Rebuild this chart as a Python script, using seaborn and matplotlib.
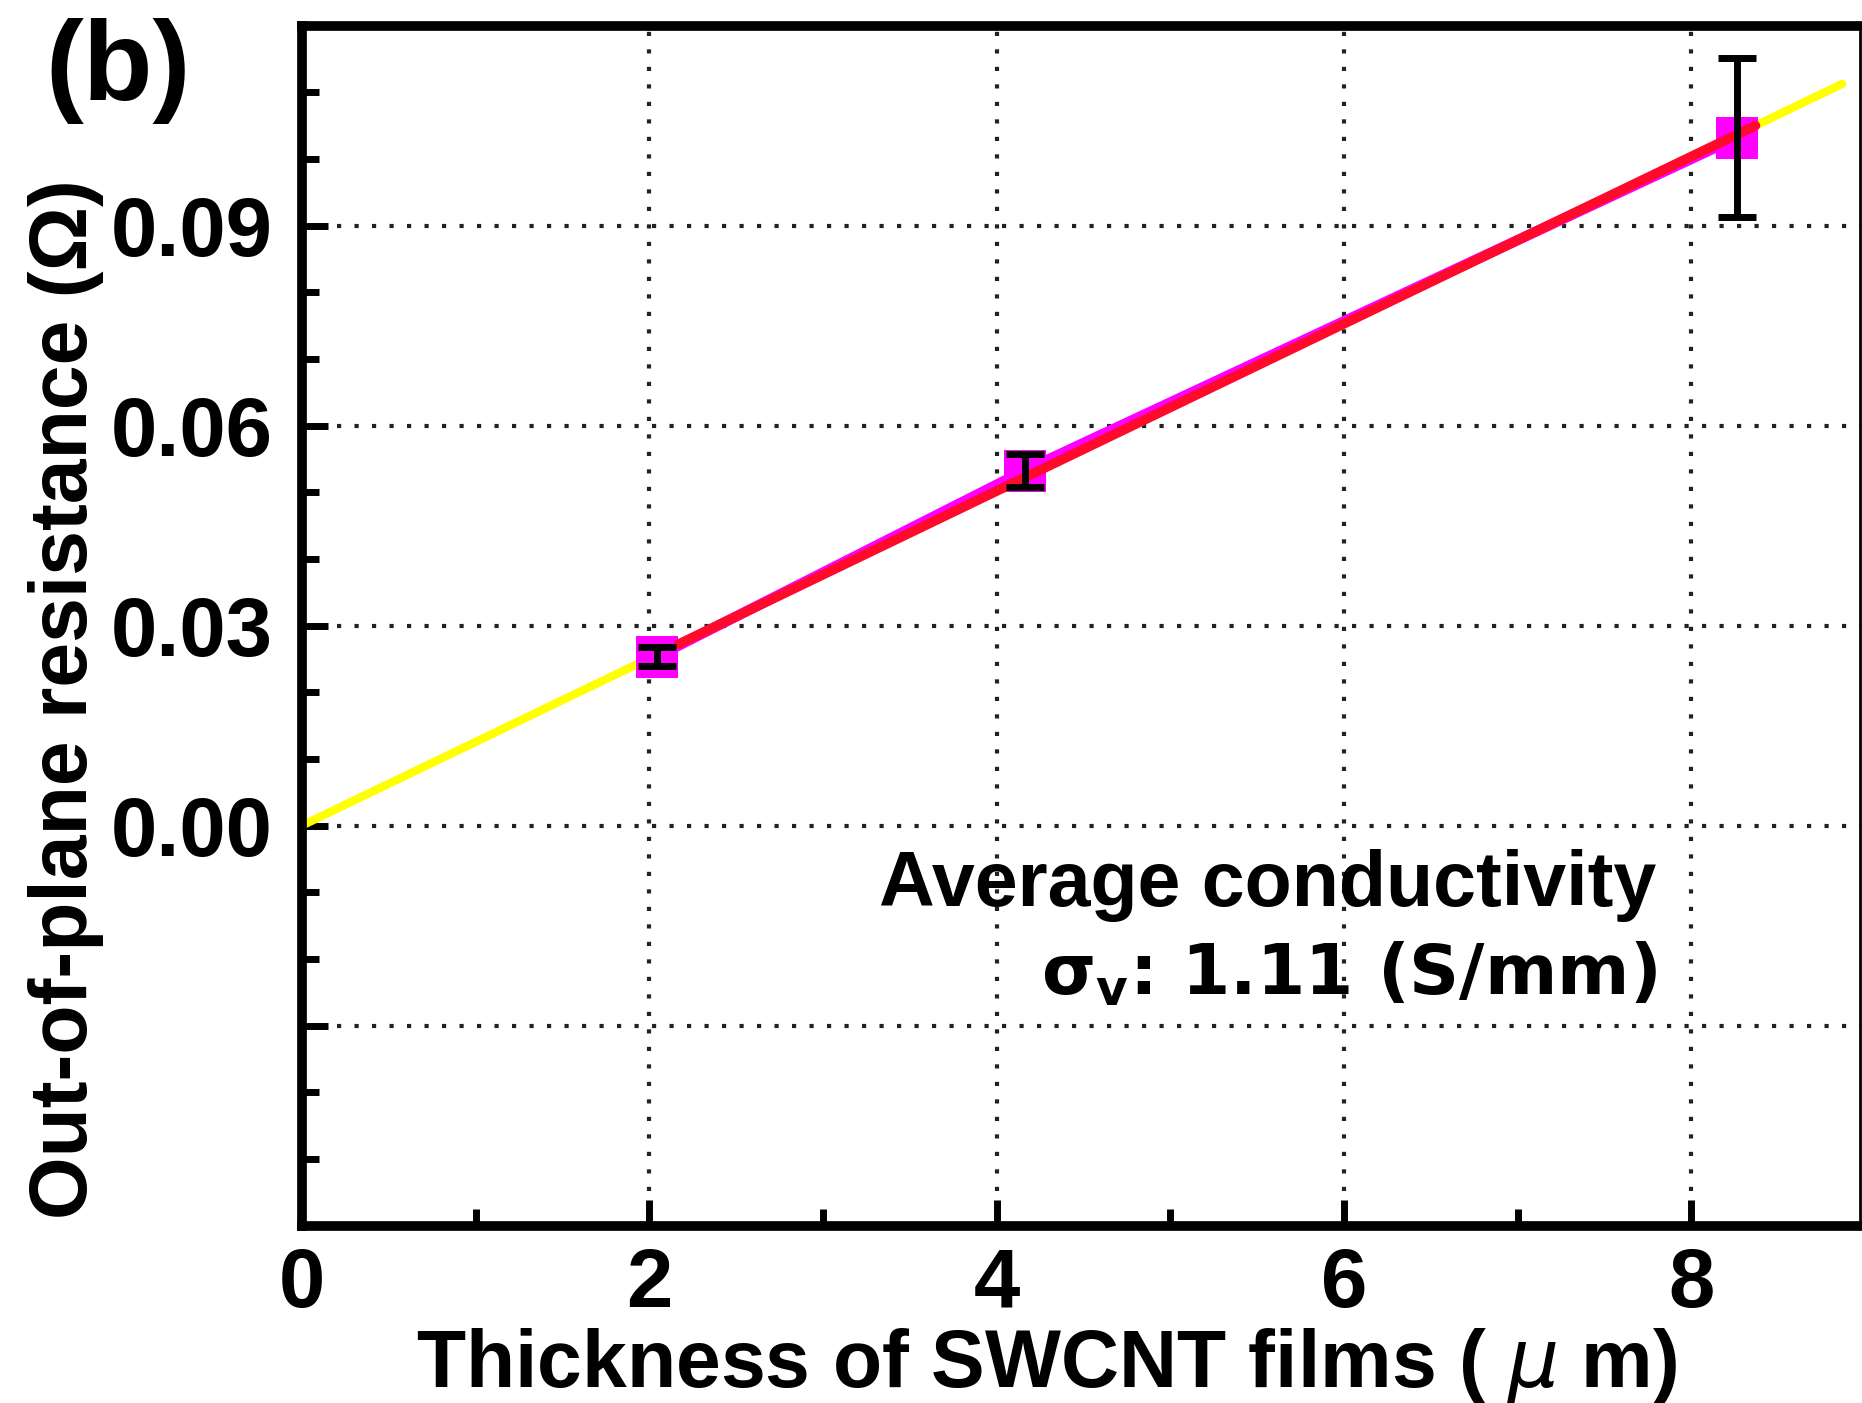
import numpy as np
import matplotlib
matplotlib.use("Agg")
import matplotlib.pyplot as plt
import seaborn as sns
from matplotlib.ticker import FixedLocator, MultipleLocator, FixedFormatter

# ---------------- data ----------------
thickness_um = [2.044, 4.162, 8.262]
resistance_ohm = [0.02535, 0.05325, 0.10317]
resistance_err = [0.00143, 0.00248, 0.01193]
yellow_fit_x = [0.0, 8.87]
red_fit_x = [2.17, 8.37]
x_major = [0, 2, 4, 6, 8]
x_labels = ["0", "2", "4", "6", "8"]
y_major = [-0.03, 0.00, 0.03, 0.06, 0.09]
y_labels = ["", "0.00", "0.03", "0.06", "0.09"]
panel_label = "(b)"
annot_line1 = "Average conductivity"
annot_line2 = r"σ$_\mathregular{v}$: 1.11 (S/mm)"
x_title = r"Thickness of SWCNT films ( $\mu$ m)"
y_title = "Out-of-plane resistance (Ω)"

# ---------------- style ----------------
sns.set_theme(style="white")
plt.rcParams['font.family'] = ['Liberation Sans', 'DejaVu Sans']
plt.rcParams['font.weight'] = 'bold'
plt.rcParams['mathtext.fontset'] = 'custom'
plt.rcParams['mathtext.it'] = 'DejaVu Sans:italic:weight=normal'
plt.rcParams['mathtext.rm'] = 'Liberation Sans:weight=bold'

fig = plt.figure(figsize=(18.62, 14.03), dpi=100)
ax = fig.add_axes([0.1622, 0.1265, 0.8365, 0.8553])

x = np.array(thickness_um)
y = np.array(resistance_ohm)
slope = np.sum(x * y) / np.sum(x * x)   # least-squares fit through origin

yx = np.array(yellow_fit_x)
rx = np.array(red_fit_x)

sns.lineplot(x=yx, y=slope * yx, color='#ffff00', linewidth=6, zorder=2, ax=ax)
sns.lineplot(x=x, y=y, color='#ff00ff', linewidth=7.5, zorder=3, ax=ax)
sns.scatterplot(x=x, y=y, marker='s', s=30 ** 2, color='#ff00ff', linewidth=0, zorder=4, ax=ax)
sns.lineplot(x=rx, y=slope * rx, color='#ff0a2a', linewidth=7.0, zorder=5, ax=ax)
ax.errorbar(x, y, yerr=resistance_err, fmt='none', ecolor='black', elinewidth=5,
            capsize=14, capthick=5, zorder=6)

ax.set_xlim(0, 8.97)
ax.set_ylim(-0.06, 0.12)

ax.xaxis.set_major_locator(FixedLocator(x_major))
ax.xaxis.set_major_formatter(FixedFormatter(x_labels))
ax.xaxis.set_minor_locator(MultipleLocator(1))
ax.yaxis.set_major_locator(FixedLocator(y_major))
ax.yaxis.set_major_formatter(FixedFormatter(y_labels))
ax.yaxis.set_minor_locator(MultipleLocator(0.01))

ax.tick_params(which='both', direction='in', bottom=True, left=True, top=False, right=False,
               color='black', labelcolor='black')
ax.tick_params(which='major', length=19, width=5, labelsize=60)
ax.tick_params(which='minor', length=12, width=5)
ax.tick_params(axis='y', which='major', pad=21)
ax.tick_params(axis='x', which='major', pad=15)
for lab in ax.get_xticklabels() + ax.get_yticklabels():
    lab.set_fontweight('bold')

ax.grid(True, which='major', color='#222222', linestyle=(0, (1, 3.2)), linewidth=3)
ax.set_axisbelow(True)

for side in ['left', 'bottom', 'top']:
    ax.spines[side].set_linewidth(7)
    ax.spines[side].set_color('black')
ax.spines['right'].set_linewidth(2)
ax.spines['right'].set_color('black')

ax.set_xlabel(x_title, fontsize=58, fontweight='bold', color='black')
ax.set_ylabel(y_title, fontsize=58, fontweight='bold', color='black')
ax.xaxis.set_label_coords(0.478, -0.1346)
ax.xaxis.label.set_va('baseline')
ax.yaxis.set_label_coords(-0.138, 0.4388)
ax.yaxis.label.set_va('baseline')

ax.text(7.80, -0.01207, annot_line1, ha='right', va='baseline', fontsize=55.5,
        fontweight='bold', color='black')
ax.text(7.80, -0.02542, annot_line2, ha='right', va='baseline', fontsize=50,
        fontweight='bold', color='black', family=['DejaVu Sans'])

fig.text(0.0242, 0.9287, panel_label, ha='left', va='baseline', fontsize=82,
         fontweight='bold', color='black')

fig.savefig("out.png", dpi=100, facecolor='white')
